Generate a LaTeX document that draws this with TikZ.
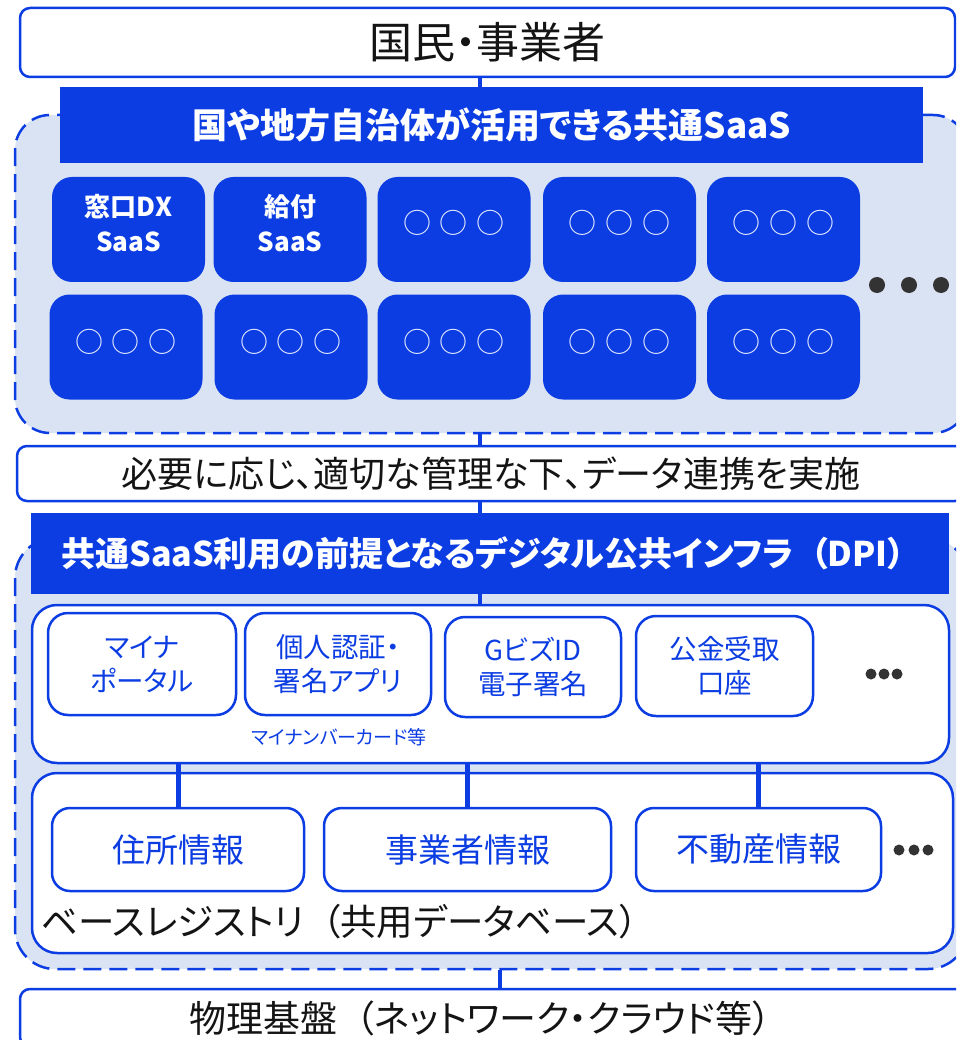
\documentclass[tikz,border=0pt]{standalone}
\usepackage{fontspec}
\setmainfont{Noto Sans CJK JP}[RawFeature={+palt}]
\definecolor{mblue}{RGB}{11,61,227}
\definecolor{lblue}{RGB}{218,227,243}
\definecolor{dotc}{RGB}{51,51,51}
\definecolor{txtc}{RGB}{20,20,20}
\newcommand\lpar{\hspace{0.5em}（}
\tikzset{
  frame/.style={draw=mblue, line width=2.5pt, fill=white, rounded corners=#1, inner sep=0pt},
  frame/.default=10pt,
  region/.style={draw=mblue, line width=2.5pt, dash pattern=on 18pt off 8pt, fill=lblue, rounded corners=35pt, inner sep=0pt},
  banner/.style={fill=mblue, inner sep=0pt, text=white, font=\bfseries\fontsize{35}{38}\selectfont},
  saas/.style={fill=mblue, rounded corners=20pt, inner sep=0pt, minimum width=153pt, minimum height=105pt},
  saastxt/.style={text=white, font=\bfseries\fontsize{26}{35}\selectfont, align=center, inner sep=0pt},
  circtxt/.style={text=white!92!mblue, font=\fontsize{28}{30}\selectfont, inner sep=0pt},
  bigtxt/.style={text=txtc, font=\fontsize{#1}{#1}\selectfont},
  dpibox/.style={frame=20pt, text=mblue, font=\fontsize{27.5}{34}\selectfont, align=center},
  regbox/.style={frame=18pt, text=mblue, font=\fontsize{33}{36}\selectfont, minimum height=83pt},
  conn/.style={draw=mblue, line width=3.5pt},
  thick conn/.style={draw=mblue, line width=5pt},
  dot/.style={fill=dotc}
}
\newcommand\saasbox[4]{%
  \node[saas] (#1) at (#2,#3) {};
  \node[saastxt] (#1t) at (#2,#3-6) {#4};}
\begin{document}
\begin{tikzpicture}[x=1pt,y=-1pt]
\useasboundingbox (0,0) rectangle (956,1040);
\clip (0,0) rectangle (956,1040);
\coordinate (cA) at (480,0);
\coordinate (cB) at (500,0);

% ---------- region 1 : common SaaS ----------
\node[region, minimum width=953pt, minimum height=318pt] (reg1) at (491.5,274) {};

\node[frame=10pt, minimum width=935pt, minimum height=69pt, bigtxt=43] (top) at (487.5,42.5) {国民・事業者};
\node[banner, minimum width=863pt, minimum height=76pt] (ban1) at (491.5,125) {国や地方自治体が活用できる共通SaaS};
\draw[conn] (top.south -| cA) -- (ban1.north -| cA);

\saasbox{s1}{128.5}{229.5}{窓口DX\\SaaS}
\saasbox{s2}{290}{229.5}{給付\\SaaS}
\saasbox{s3}{454}{229.5}{}
\saasbox{s4}{619.5}{229.5}{}
\saasbox{s5}{783.5}{229.5}{}
\saasbox{s6}{126}{347}{}
\saasbox{s7}{291}{347}{}
\saasbox{s8}{454}{347}{}
\saasbox{s9}{619.5}{347}{}
\saasbox{s10}{783.5}{347}{}
\foreach \n/\x/\y in {s3c/454/223, s4c/619.5/223, s5c/783.5/223, s6c/126/342, s7c/291/342, s8c/454/342, s9c/619.5/342, s10c/783.5/342}
  \node[circtxt] (\n) at (\x,\y) {○\hspace{9pt}○\hspace{9pt}○};
\foreach \x in {877,909,941} \fill[dot] (\x,285) circle (8pt);

% ---------- middle bar ----------
\node[frame=10pt, minimum width=948pt, minimum height=55pt, bigtxt=36] (mid) at (491,473.5) {必要に応じ、適切な管理な下、データ連携を実施};
\draw[conn] (reg1.south -| cA) -- (mid.north -| cA);

% ---------- region 2 : DPI ----------
\node[region, rounded corners=40pt, minimum width=953pt, minimum height=431pt] (reg2) at (491.5,753.5) {};
\node[banner, minimum width=918pt, minimum height=81pt] (ban2) at (490,553.5) {};
\node[banner, font=\bfseries\fontsize{34}{38}\selectfont] (ban2t) at (483,553.5) {共通SaaS利用の前提となるデジタル公共インフラ\lpar DPI）};
\draw[conn] (mid.south -| cA) -- (ban2.north -| cA);

\node[frame=25pt, minimum width=917pt, minimum height=158pt] (dpi1) at (490.5,684) {};
\node[frame=25pt, minimum width=921pt, minimum height=180pt] (dpi2) at (492.5,863) {};
\draw[conn] (ban2.south -| cA) -- (dpi1.north -| cA);

\node[dpibox, minimum width=188pt, minimum height=102pt] (b1) at (142,664) {マイナ\\ポータル};
\node[dpibox, minimum width=186pt, minimum height=102pt] (b2) at (338,664) {個人認証・\\署名アプリ};
\node[dpibox, minimum width=176pt, minimum height=100pt] (b3) at (533,667) {GビズID\\電子署名};
\node[dpibox, minimum width=177pt, minimum height=100pt] (b4) at (724.5,666) {公金受取\\口座};
\node[text=mblue, font=\fontsize{19}{20}\selectfont, inner sep=0pt] (card) at (339,737) {マイナンバーカード等};
\foreach \x in {871,884,897} \fill[dot] (\x,674) circle (5.5pt);

\node[regbox, minimum width=252pt] (r1) at (178,849.5) {住所情報};
\node[regbox, minimum width=287pt] (r2) at (467.5,849.5) {事業者情報};
\node[regbox, minimum width=245pt] (r3) at (758.5,849.5) {不動産情報};
\foreach \x in {899,914,928} \fill[dot] (\x,850) circle (5.5pt);
\foreach \r in {r1,r2,r3} \draw[thick conn] (\r.north) -- (\r.north |- dpi1.south);
\node[bigtxt=36.5, anchor=west, inner sep=0pt] (baselbl) at (41,922) {ベースレジストリ\lpar 共用データベース）};

% ---------- bottom ----------
\node[frame=10pt, minimum width=945pt, minimum height=58pt] (bot) at (492.5,1018) {};
\node[bigtxt=37, inner sep=0pt] (bott) at (480,1018) {物理基盤\lpar ネットワーク・クラウド等）};
\draw[conn] (reg2.south -| cB) -- (bot.north -| cB);
\end{tikzpicture}
\end{document}
